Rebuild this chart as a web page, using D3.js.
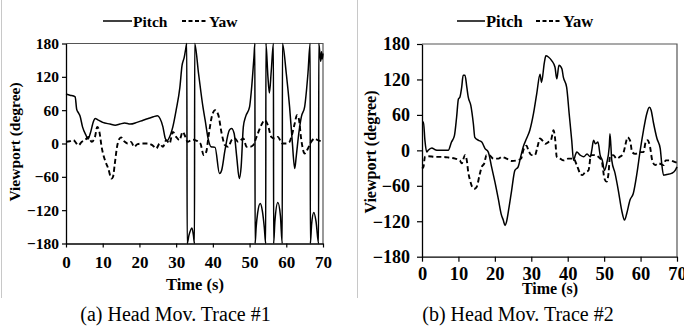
<!DOCTYPE html>
<html>
<head>
<meta charset="utf-8">
<script src="https://cdn.jsdelivr.net/npm/d3@7"></script>
<style>
  body { margin: 0; background: #fff; }
  svg { display: block; }
  text { font-family: "Liberation Serif", "Times New Roman", serif; fill: #000; }
  text.bold { font-weight: bold; }
</style>
</head>
<body>
<script>
// tick labels shared by both panels
const timeTicks = [0, 10, 20, 30, 40, 50, 60, 70];
const degreeTicks = [-180, -120, -60, 0, 60, 120, 180];
const seriesNames = ['Pitch', 'Yaw'];

// Trace #1
const trace1PitchTime = [0, 1.1, 2.5, 2.9, 3.4, 3.8, 4.5, 5.5, 6.0, 6.6, 7.5, 7.9, 8.8, 10, 12, 13.4, 14.7, 16, 17.5, 19.3, 21, 22.4, 23.8, 24.9, 25.6, 26.4, 27, 27.5, 28.4, 29.1, 30, 31, 31.6, 32.2, 32.6, 32.9,
  33.0, 33.5, 34.3, 34.7, 35.0,
  35.05, 36.1, 37.3, 37.9, 38.8, 39.5, 40.6, 41.8, 42.4, 43.3, 44.5, 45.1, 45.8, 46.5, 47.2, 47.7, 48.3, 48.9, 50, 50.5, 51.2, 51.45,
  51.5, 51.8, 52.2, 52.9, 53.5, 54.0, 54.4,
  54.45, 55.0, 55.4, 55.9, 56.5,
  56.55, 56.9, 57.7, 58.4, 58.9,
  58.95, 60, 60.9, 61.6, 62.3, 62.7, 63.4, 64.1, 65, 65.9, 66.5,
  66.55, 66.9, 67.5, 68.1, 68.8,
  68.85, 69.2, 69.4, 69.6, 69.8, 70];
const trace1PitchDeg = [89, 87, 84, 62, 55, 50, 30, 14, 8, 18, 40, 45, 42, 38, 35, 33, 35, 37, 35, 38, 42, 45, 48, 50, 45, 30, 10, 5, 15, 30, 60, 100, 140, 155, 170, 180,
  -180, -165, -152, -165, -180,
  180, 126, 66, 42, 6, -6, -7, -54, -48, -12, 24, 27, 18, -24, -63, -42, 30, 48, 66, 96, 156, 180,
  -180, -150, -125, -108, -122, -150, -180,
  180, 120, 91, 130, 180,
  -180, -140, -106, -130, -180,
  180, 126, 66, 6, -45, -24, 18, 48, 66, 126, 180,
  -180, -145, -124, -140, -180,
  180, 158, 148, 165, 152, 162];
const trace1YawTime = [0, 1, 2, 3.4, 4.3, 5.2, 6.1, 7, 7.9, 8.5, 9.1, 9.7, 10.6, 11.5, 12.4, 12.8, 13.3, 13.9, 14.6, 15, 16, 16.8, 17.7, 18.6, 19.5, 20.9, 22.3, 23.5, 24.6, 25.5, 26.4, 27.3, 28.2, 29.1, 30, 30.9, 31.8, 32.5, 33.1, 34.4, 35.2, 36.6, 37.5, 38.2, 38.8, 39.7, 40.6, 41.5, 42.4, 43.3, 44.2, 45.1, 46, 46.9, 48.3, 49.2, 50.1, 51, 51.9, 53.2, 54.1, 55, 55.9, 56.8, 57.7, 58.9, 60, 60.9, 61.4, 62.3, 62.9, 63.4, 64.1, 65, 65.9, 66.8, 67.7, 68.6, 70];
const trace1YawDeg = [3, 4, 6, -3, 3, 6, 12, 3, 12, 30, 21, -6, -30, -45, -63, -60, -36, -6, 9, 11, 3, 0, 3, -6, -1, 0, 0, -3, -9, 0, -6, 6, 0, 21, 12, 6, 21, 12, 3, 7, 6, 0, -21, -15, 12, 48, 60, 51, 18, -3, -6, 6, 9, 3, 9, -6, -6, -3, 12, 33, 42, 33, 12, 9, 12, 0, 0, 3, 12, 36, 51, 45, 6, -18, -9, 3, 9, 6, 3];

// Trace #2
const trace2PitchTime = [0, 0.4, 0.8, 1.3, 1.7, 2.7, 3.6, 4.5, 7.2, 8.1, 8.9, 9.5, 10, 10.4, 10.9, 11.3, 11.8, 12.3, 12.7, 13.4, 14.1, 14.5, 15.5, 16.4, 17.3, 18.2, 19.1, 20, 21, 21.7, 22.3, 22.8, 23.2, 23.9, 24.6, 25.5, 26.4, 27.2, 27.8, 28.7, 29.6, 30.6, 31.5, 32.4, 32.8, 33.6, 34, 34.7, 35.6, 36.5, 37, 37.6, 38.4, 38.8, 39.7, 40.4, 41.1, 41.6, 42.1, 42.5, 43.4, 44.4, 45.3, 46.2, 46.6, 47.1, 47.6, 48.3, 48.9, 49.5, 50.1, 50.7, 51.4, 51.6, 52.1, 53, 53.9, 54.8, 55.6, 56.2, 57.1, 58, 59, 59.9, 60.8, 61.7, 62.4, 62.9, 63.5, 64.5, 65.4, 65.8, 66.3, 67.2, 68.5, 69.5, 70];
const trace2PitchDeg = [48, 48, 17, -3, 0, 4, 1, 0, 0, 14, 25, 56, 87, 90, 107, 127, 127, 107, 90, 76, 45, 22, 17, 14, 3, -3, -28, -53, -84, -107, -118, -127, -121, -96, -68, -34, -28, -8, 6, 20, 34, 62, 96, 129, 115, 149, 160, 158, 152, 141, 121, 144, 138, 124, 107, 62, 17, -17, -8, -3, -8, -11, -6, -11, 0, 17, 11, 14, -8, -17, -34, -22, 6, 28, -17, -39, -68, -101, -118, -107, -84, -73, -39, 0, 34, 62, 73, 68, 48, 20, 3, -22, -42, -41, -39, -34, -28];
const trace2YawTime = [0, 0.4, 0.8, 1.7, 3.6, 5.4, 7.2, 9.1, 10.4, 10.9, 11.8, 12.3, 12.7, 13.2, 13.8, 14.4, 15, 15.9, 16.4, 17.1, 17.7, 18.4, 19.6, 21, 21.9, 23.2, 24.6, 26, 27.2, 27.8, 28.7, 29.2, 30.1, 31, 31.7, 32.4, 33, 33.8, 34.7, 35.4, 36.1, 36.5, 37, 37.9, 38.8, 40.2, 41.6, 42.5, 43.4, 44, 44.8, 45.7, 46.4, 47.3, 48.4, 49.3, 50.1, 50.7, 51.2, 51.6, 52.5, 53.4, 54.3, 55.2, 55.9, 56.4, 57.1, 57.7, 58.5, 59.9, 60.8, 61.4, 61.9, 62.6, 63.2, 64, 64.9, 66.3, 66.9, 68.1, 69.5, 70];
const trace2YawDeg = [-31, -28, -11, -10, -11, -11, -12, -14, -17, -22, -8, -17, -37, -51, -62, -65, -62, -39, -28, -22, -8, -8, -14, -14, -11, -14, -18, -17, -14, 0, 8, 0, -8, -8, 6, 20, 17, 11, 14, 17, 34, 22, -11, -14, -17, -14, -14, -25, -39, -42, -37, -34, -8, -8, -11, -17, -48, -53, -39, -11, -8, -14, -11, -6, 11, 22, 17, -3, -6, -3, -3, 14, 17, 6, -17, -25, -22, -25, -17, -17, -20, -21];

const W = 684, H = 332;
const svg = d3.select('body').append('svg').attr('width', W).attr('height', H);

// thin grey frame edges of the two sub-figures
svg.append('line').attr('x1', 1.5).attr('x2', 1.5).attr('y1', 0).attr('y2', 298)
  .attr('stroke', '#c8c8c8').attr('stroke-width', 1);
svg.append('line').attr('x1', 357.5).attr('x2', 357.5).attr('y1', 0).attr('y2', 298)
  .attr('stroke', '#c8c8c8').attr('stroke-width', 1);

function drawPanel(p) {
  const x = d3.scaleLinear().domain([0, 70]).range([p.left, p.right]);
  const y = d3.scaleLinear().domain([-180, 180]).range([p.bottom, p.top]);
  const g = svg.append('g');

  // frame (top + right)
  g.append('path')
    .attr('d', `M${p.left},${p.top}H${p.right}V${p.bottom}`)
    .attr('fill', 'none').attr('stroke', '#555').attr('stroke-width', 1.2);

  const line = d3.line().curve(d3.curveMonotoneX)
    .x(d => x(d[0])).y(d => y(d[1]));

  g.append('path')
    .datum(d3.zip(p.pitchTime, p.pitch))
    .attr('d', line)
    .attr('fill', 'none').attr('stroke', '#000').attr('stroke-width', 1.5);

  g.append('path')
    .datum(d3.zip(p.yawTime, p.yaw))
    .attr('d', line)
    .attr('fill', 'none').attr('stroke', '#000').attr('stroke-width', 1.9)
    .attr('stroke-dasharray', '5,3');

  // axes
  const yAxis = g.append('g').attr('transform', `translate(${p.left},0)`)
    .call(d3.axisLeft(y).tickValues(degreeTicks).tickSize(p.tick).tickSizeOuter(0).tickPadding(p.yPad));
  const xAxis = g.append('g').attr('transform', `translate(0,${p.bottom})`)
    .call(d3.axisBottom(x).tickValues(timeTicks).tickSize(p.tick).tickSizeOuter(0).tickPadding(p.xPad));
  [yAxis, xAxis].forEach(a => {
    a.attr('font-family', null);
    a.select('.domain').attr('stroke', '#000').attr('stroke-width', 1.3);
    a.selectAll('.tick line').attr('stroke', '#000').attr('stroke-width', 1.2);
    a.selectAll('text').attr('class', 'bold');
  });
  yAxis.selectAll('text').attr('font-size', p.yFont);
  xAxis.selectAll('text').attr('font-size', p.xFont);

  g.append('text').attr('class', 'bold').attr('x', p.timeX).attr('y', p.timeY)
    .attr('text-anchor', 'middle').attr('dominant-baseline', 'central')
    .attr('font-size', p.timeFont).text('Time (s)');
  g.append('text').attr('class', 'bold')
    .attr('transform', `translate(${p.vpX},${p.vpY}) rotate(-90)`)
    .attr('text-anchor', 'middle').attr('dominant-baseline', 'central')
    .attr('font-size', p.vpFont).text('Viewport (degree)');

  // legend
  const lg = g.append('g');
  const items = [
    { name: seriesNames[0], x0: p.leg[0], x1: p.leg[1], dash: null, w: 1.5 },
    { name: seriesNames[1], x0: p.leg[2], x1: p.leg[3], dash: '4,2.5', w: 1.8 }
  ];
  items.forEach(it => {
    lg.append('line').attr('x1', it.x0).attr('x2', it.x1).attr('y1', p.legY).attr('y2', p.legY)
      .attr('stroke', '#000').attr('stroke-width', it.w).attr('stroke-dasharray', it.dash);
    lg.append('text').attr('class', 'bold').attr('x', it.x1 + 1).attr('y', p.legY)
      .attr('dominant-baseline', 'central')
      .attr('font-size', p.legFont).text(it.name);
  });

  g.append('text').attr('x', p.capX).attr('y', 314)
    .attr('text-anchor', 'middle').attr('dominant-baseline', 'central')
    .attr('font-size', 20).text(p.caption);
}

drawPanel({
  left: 66, right: 323, top: 43.5, bottom: 243.5,
  pitchTime: trace1PitchTime, pitch: trace1PitchDeg,
  yawTime: trace1YawTime, yaw: trace1YawDeg,
  tick: 4, yPad: 3, xPad: 8, yFont: 15.5, xFont: 17,
  timeX: 195, timeY: 284, timeFont: 16.5,
  vpX: 14, vpY: 142, vpFont: 15.5,
  leg: [103, 132, 182, 208], legY: 21, legFont: 15.5,
  capX: 175.5, caption: '(a) Head Mov. Trace #1'
});

drawPanel({
  left: 422, right: 677, top: 44, bottom: 256.7,
  pitchTime: trace2PitchTime, pitch: trace2PitchDeg,
  yawTime: trace2YawTime, yaw: trace2YawDeg,
  tick: 5, yPad: 7, xPad: 5.5, yFont: 18, xFont: 18.5,
  timeX: 550, timeY: 288, timeFont: 16,
  vpX: 370, vpY: 152, vpFont: 16,
  leg: [457, 485, 536, 562], legY: 21, legFont: 16.5,
  capX: 518, caption: '(b) Head Mov. Trace #2'
});
</script>
</body>
</html>
